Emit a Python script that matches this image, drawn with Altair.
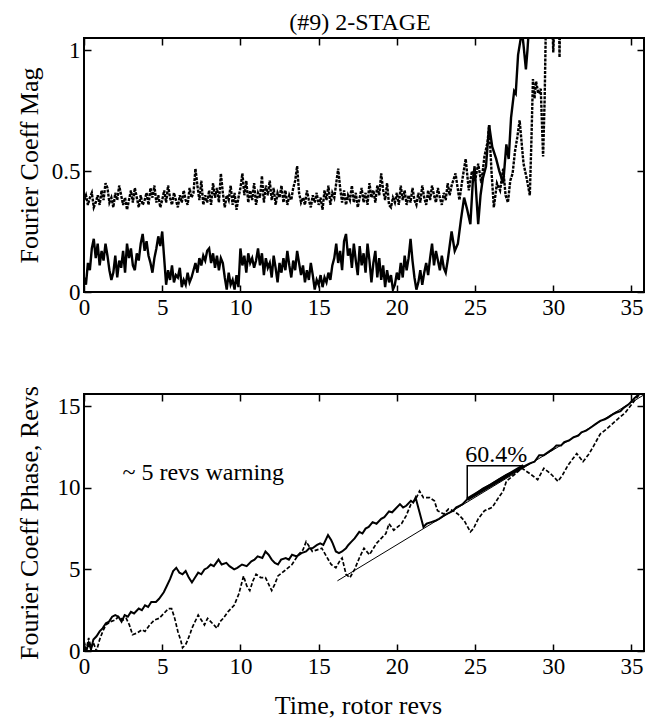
import altair as alt
import pandas as pd

FONT = "Liberation Serif"
BLACK = "#000000"

# ---------------- axes / ticks ----------------
X_MAX = 35.8
X_TICKS = [0, 5, 10, 15, 20, 25, 30, 35]
MAG_MAX = 1.05
MAG_TICKS = [0, 0.5, 1]
PHASE_MAX = 15.75
PHASE_TICKS = [0, 5, 10, 15]

TITLE = "(#9) 2-STAGE"
X_TITLE = "Time, rotor revs"
MAG_TITLE = "Fourier Coeff Mag"
PHASE_TITLE = "Fourier Coeff Phase, Revs"

# ---------------- top panel: magnitude ----------------
T_STEP = 0.125
# dashed trace, flat part sampled every T_STEP from t=0 (8 samples per rev)
mag_dashed_flat = [
    0.38, 0.40, 0.36, 0.39, 0.41, 0.35, 0.37, 0.40,
    0.36, 0.42, 0.38, 0.45, 0.43, 0.37, 0.39, 0.35,
    0.41, 0.38, 0.44, 0.40, 0.36, 0.39, 0.34, 0.38,
    0.42, 0.37, 0.43, 0.39, 0.35, 0.40, 0.36, 0.38,
    0.41, 0.36, 0.43, 0.39, 0.44, 0.37, 0.40, 0.35,
    0.38, 0.42, 0.37, 0.44, 0.39, 0.36, 0.41, 0.38,
    0.35, 0.40, 0.37, 0.42, 0.38, 0.36, 0.43, 0.39,
    0.41, 0.51, 0.44, 0.38, 0.46, 0.36, 0.40, 0.37,
    0.42, 0.36, 0.45, 0.39, 0.43, 0.37, 0.49, 0.41,
    0.35, 0.40, 0.38, 0.44, 0.36, 0.41, 0.34, 0.39,
    0.43, 0.49, 0.40, 0.46, 0.37, 0.42, 0.38, 0.45,
    0.36, 0.41, 0.39, 0.48, 0.37, 0.44, 0.40, 0.46,
    0.38, 0.43, 0.36, 0.41, 0.39, 0.44, 0.37, 0.42,
    0.36, 0.40, 0.38, 0.43, 0.46, 0.52, 0.41, 0.37,
    0.39, 0.36, 0.42, 0.38, 0.35, 0.40, 0.37, 0.41,
    0.36, 0.39, 0.34, 0.42, 0.38, 0.44, 0.36, 0.41,
    0.39, 0.45, 0.51, 0.43, 0.37, 0.42, 0.36, 0.40,
    0.38, 0.44, 0.37, 0.41, 0.35, 0.39, 0.43, 0.37,
    0.41, 0.36, 0.45, 0.39, 0.42, 0.37, 0.44, 0.40,
    0.49, 0.42, 0.38, 0.45, 0.36, 0.35, 0.39, 0.37,
    0.41, 0.36, 0.44, 0.38, 0.42, 0.36, 0.40, 0.37,
    0.43, 0.38, 0.36, 0.41, 0.37, 0.44, 0.39, 0.36,
    0.42, 0.38, 0.44, 0.40, 0.37, 0.43, 0.39, 0.36,
    0.41, 0.38, 0.45, 0.40, 0.44]
mag_dashed_rise_t = [23.75, 24.0, 24.2, 24.4, 24.6, 24.8, 25.0, 25.2, 25.4, 25.6, 25.8, 25.9,
                     26.05, 26.2, 26.4, 26.6, 26.8, 26.95, 27.1, 27.25, 27.4, 27.55, 27.7,
                     27.85, 28.0, 28.1, 28.3, 28.5, 28.6, 28.7, 28.8, 28.9, 29.05, 29.2,
                     29.35, 29.45, 29.55, 29.9, 30.0, 30.1, 30.35, 30.4, 30.45]
mag_dashed_rise_v = [0.49, 0.38, 0.47, 0.55, 0.42, 0.50, 0.46, 0.53, 0.45, 0.56, 0.62, 0.69,
                     0.50, 0.35, 0.45, 0.42, 0.51, 0.40, 0.37, 0.46, 0.49, 0.58, 0.64,
                     0.71, 0.60, 0.53, 0.47, 0.40, 0.62, 0.88, 0.80, 0.87, 0.82, 0.84,
                     0.56, 0.80, 1.20, 1.20, 0.99, 1.20, 1.20, 0.97, 1.20]

# solid trace, flat part sampled every T_STEP from t=0 (8 samples per rev)
mag_solid_flat = [
    0.06, 0.03, 0.12, 0.09, 0.18, 0.22, 0.14, 0.20,
    0.11, 0.17, 0.13, 0.20, 0.15, 0.09, 0.05, 0.08,
    0.15, 0.06, 0.13, 0.10, 0.17, 0.08, 0.20, 0.14,
    0.18, 0.11, 0.09, 0.16, 0.13, 0.20, 0.24, 0.17,
    0.21, 0.15, 0.12, 0.08, 0.14, 0.18, 0.23, 0.19,
    0.25, 0.14, 0.03, 0.09, 0.05, 0.11, 0.04, 0.07,
    0.06, 0.10, 0.02, 0.05, 0.03, 0.08, 0.04, 0.06,
    0.09, 0.12, 0.08, 0.14, 0.11, 0.15, 0.13, 0.17,
    0.18, 0.12, 0.16, 0.10, 0.15, 0.09, 0.14, 0.12,
    0.06, 0.01, 0.08, 0.03, 0.05, 0.01, 0.07, 0.02,
    0.18, 0.11, 0.15, 0.08, 0.16, 0.12, 0.14, 0.10,
    0.13, 0.18, 0.11, 0.16, 0.07, 0.14, 0.10, 0.12,
    0.06, 0.15, 0.10, 0.04, 0.12, 0.08, 0.14, 0.09,
    0.17, 0.11, 0.06, 0.13, 0.09, 0.17, 0.12, 0.07,
    0.11, 0.04, 0.09, 0.05, 0.12, 0.07, 0.01, 0.05,
    0.03, 0.07, 0.02, 0.06, 0.04, 0.08, 0.05, 0.11,
    0.14, 0.20, 0.12, 0.17, 0.09, 0.21, 0.24, 0.15,
    0.18, 0.10, 0.20, 0.13, 0.07, 0.19, 0.11, 0.16,
    0.08, 0.20, 0.13, 0.04, 0.12, 0.17, 0.06, 0.14,
    0.05, 0.11, 0.02, 0.09, 0.04, 0.07, 0.01, 0.03,
    0.08, 0.05, 0.12, 0.06, 0.15, 0.09, 0.14, 0.22,
    0.13, 0.06, 0.01, 0.04, 0.09, 0.03, 0.08, 0.12,
    0.07, 0.14, 0.20, 0.11, 0.17, 0.13, 0.09, 0.15,
    0.10, 0.08, 0.13]
mag_solid_rise_t = [23.5, 23.7, 23.9, 24.1, 24.3, 24.5, 24.7, 24.85, 24.97, 25.1, 25.2, 25.35,
                    25.5, 25.7, 25.9, 26.1, 26.35, 26.55, 26.8, 27.0, 27.15, 27.3, 27.5,
                    27.6, 27.75, 27.9, 28.0, 28.1, 28.25, 28.35, 28.45]
mag_solid_rise_v = [0.25, 0.17, 0.20, 0.30, 0.39, 0.34, 0.28, 0.45, 0.52, 0.38, 0.28, 0.40,
                    0.47, 0.52, 0.69, 0.60, 0.55, 0.50, 0.45, 0.61, 0.55, 0.72, 0.83,
                    0.82, 0.98, 1.04, 1.08, 1.02, 0.92, 1.00, 1.10]

# ---------------- bottom panel: phase ----------------
phase_solid_t = [0, 0.15, 0.3, 0.45, 0.6, 0.8, 1.0, 1.2, 1.4, 1.6, 1.8, 2.0, 2.2, 2.4, 2.6, 2.8,
                 3.0, 3.2, 3.5, 3.7, 3.9, 4.1, 4.3, 4.6, 4.8, 5.1, 5.3, 5.5, 5.7, 5.9, 6.1,
                 6.3, 6.5, 6.7, 6.9, 7.1, 7.3, 7.5, 7.7, 7.9, 8.1, 8.3, 8.6, 8.8, 9.1, 9.3,
                 9.6, 9.8, 10.1, 10.4, 10.7, 10.9, 11.1, 11.4, 11.6, 11.8, 12.0, 12.2, 12.4,
                 12.6, 12.9, 13.1, 13.3, 13.6, 13.9, 14.2, 14.4, 14.6, 14.9, 15.1, 15.3,
                 15.6, 15.8, 15.9, 16.1, 16.3, 16.5, 16.75, 16.9, 17.1, 17.3, 17.6, 17.8,
                 18.0, 18.2, 18.45, 18.7, 19.0, 19.2, 19.5, 19.7, 19.9, 20.2, 20.4, 20.6,
                 20.9, 21.05, 21.2, 21.45, 21.7, 21.9, 22.2, 22.5, 22.7, 23.0, 23.2, 23.4,
                 23.6, 23.8, 24.0, 24.2, 24.5, 25.0, 25.5, 26.0, 26.5, 27.0, 27.5, 28.1,
                 28.5, 28.8, 29.1, 29.4, 29.7, 30.0, 30.2, 30.5, 30.7, 31.0, 31.3, 31.6,
                 31.8, 32.1, 32.4, 32.7, 33.0, 33.3, 33.5, 33.8, 34.0, 34.3, 34.5, 34.8,
                 35.0, 35.2, 35.5]
phase_solid_v = [0.4, 0.0, 0.5, 0.1, 0.7, 0.9, 1.2, 1.4, 1.7, 1.8, 2.1, 2.2, 2.1, 1.8, 2.2, 2.1,
                 2.4, 2.3, 2.6, 2.5, 2.8, 2.7, 3.0, 3.0, 3.2, 3.6, 4.0, 4.4, 4.9, 5.1, 4.8,
                 4.7, 4.9, 4.5, 4.2, 4.5, 4.8, 4.7, 5.0, 5.1, 5.3, 5.2, 5.6, 5.3, 5.4, 5.2,
                 5.0, 5.1, 5.3, 5.2, 5.5, 5.6, 5.8, 5.7, 6.1, 5.9, 5.6, 5.4, 5.3,
                 5.6, 5.7, 5.6, 5.9, 5.8, 6.0, 6.1, 6.3, 6.3, 6.5, 6.6, 6.5,
                 7.1, 6.8, 6.6, 6.1, 6.0, 6.1, 6.3, 6.5, 6.7, 6.9, 7.3, 7.2,
                 7.5, 7.6, 7.9, 7.8, 8.1, 8.2, 8.55, 8.5, 8.7, 9.0, 8.8, 8.9,
                 9.2, 9.1, 9.4, 8.5, 7.6, 7.8, 7.9, 8.0, 8.1, 8.3, 8.4, 8.5,
                 8.6, 8.8, 8.9, 9.0, 9.3, 9.6, 9.95, 10.2, 10.5, 10.8, 11.0, 11.3,
                 11.5, 11.6, 12.0, 12.0, 12.2, 12.4, 12.6, 12.6, 12.8, 12.9, 13.1, 13.2,
                 13.4, 13.5, 13.7, 13.9, 14.1, 14.2, 14.3, 14.5, 14.6, 14.7, 14.9, 15.1,
                 15.3, 15.5, 15.75]

phase_dashed_t = [0, 0.15, 0.3, 0.45, 0.6, 0.8, 1.0, 1.2, 1.4, 1.7, 2.0, 2.2, 2.5, 2.7, 2.9,
                  3.1, 3.4, 3.7, 3.9, 4.2, 4.5, 4.8, 5.1, 5.4, 5.6, 5.8, 6.0, 6.2, 6.3, 6.5,
                  6.6, 6.8, 6.9, 7.1, 7.3, 7.5, 7.7, 7.9, 8.1, 8.3, 8.5, 8.7, 8.9, 9.2, 9.6,
                  9.9, 10.2, 10.4, 10.6, 10.8, 11.0, 11.3, 11.6, 11.8, 12.0, 12.2, 12.4,
                  12.8, 13.3, 13.7, 14.0, 14.2, 14.4, 14.6, 14.9, 15.2, 15.5, 15.8, 16.1,
                  16.4, 16.5, 16.75, 17.0, 17.3, 17.6, 17.9, 18.25, 18.7, 19.0, 19.3, 19.5,
                  19.8, 20.3, 20.6, 20.9, 21.2, 21.45, 21.7, 22.1, 22.4, 22.6, 23.0, 23.3,
                  23.6, 23.9, 24.3, 24.7, 24.9, 25.2, 25.6, 26.1, 26.5, 26.8, 27.0, 27.5,
                  28.0, 28.3, 28.6, 29.0, 29.4, 29.9, 30.3, 30.6, 30.95, 31.5, 31.9, 32.3,
                  32.6, 33.0, 33.4, 34.1, 34.6, 35.0, 35.4, 35.6]
phase_dashed_v = [0.6, 0.1, 0.8, 0.2, 0.5, 0.0, 0.7, 1.2, 1.6, 1.8, 1.9, 2.1, 1.9, 2.0, 1.6,
                  1.0, 1.1, 1.3, 1.2, 1.6, 1.9, 2.0, 2.3, 2.6, 2.6, 2.0, 1.2, 0.6, 0.2, 0.4,
                  0.6, 1.1, 1.4, 1.8, 2.2, 1.9, 1.6, 2.0, 1.8, 1.6, 1.4, 1.8, 2.0, 2.4, 2.8,
                  3.5, 4.6, 4.0, 3.7, 4.3, 4.7, 4.5, 4.5, 4.1, 3.7, 4.1, 4.6,
                  4.9, 5.3, 5.9, 6.2, 6.7, 6.4, 6.1, 6.2, 6.3, 5.8, 5.3, 5.1,
                  5.6, 5.7, 4.7, 4.5, 5.0, 5.7, 6.3, 5.9, 6.6, 6.9, 7.2, 7.8,
                  7.4, 7.8, 8.3, 9.0, 9.3, 9.8, 9.4, 9.4, 9.2, 8.6, 8.4, 8.7,
                  8.6, 8.4, 8.0, 7.3, 7.5, 8.1, 8.6, 8.8, 9.4, 9.8, 10.4, 10.8,
                  11.2, 11.0, 10.8, 10.5, 11.2, 10.8, 10.4, 10.8, 11.4, 12.1, 11.6, 12.1,
                  12.6, 13.3, 13.6, 14.2, 14.6, 15.1, 15.6, 15.75]

# straight fitted line and the slope triangle
fit_t = [16.2, 35.8]
fit_v = [4.3, 15.7]
tri_t = [24.5, 24.5, 28.1]
tri_v = [9.3, 11.35, 11.35]
hyp_t = [24.5, 28.1]
hyp_v = [9.3, 11.35]

SLOPE_LABEL = "60.4%"
SLOPE_LABEL_T = 26.36
SLOPE_LABEL_V = 11.6
WARN_LABEL = "~ 5 revs warning"
WARN_LABEL_T = 2.46
WARN_LABEL_V = 10.5

# ---------------- build tables ----------------
def flat_plus_rise(flat, rise_t, rise_v):
    ts = [i * T_STEP for i in range(len(flat))] + list(rise_t)
    vs = list(flat) + list(rise_v)
    return pd.DataFrame({"t": ts, "v": vs, "o": list(range(len(ts)))})

mag_dashed = flat_plus_rise(mag_dashed_flat, mag_dashed_rise_t, mag_dashed_rise_v)
mag_solid = flat_plus_rise(mag_solid_flat, mag_solid_rise_t, mag_solid_rise_v)

def df(ts, vs):
    return pd.DataFrame({"t": ts, "v": vs, "o": list(range(len(ts)))})

ph_solid = df(phase_solid_t, phase_solid_v)
ph_dashed = df(phase_dashed_t, phase_dashed_v)
fit_df = df(fit_t, fit_v)
tri_df = df(tri_t, tri_v)
hyp_df = df(hyp_t, hyp_v)
txt_df = pd.DataFrame({"t": [SLOPE_LABEL_T], "v": [SLOPE_LABEL_V], "s": [SLOPE_LABEL]})
warn_df = pd.DataFrame({"t": [WARN_LABEL_T], "v": [WARN_LABEL_V], "s": [WARN_LABEL]})

W = 560
TICK = 7
LBL = 23

def axis_main(orient, values, fmt, title=None, **kw):
    args = dict(orient=orient, values=values, format=fmt, offset=-TICK, tickSize=TICK,
                domain=False, grid=False, labelPadding=4, labelFont=FONT,
                labelFontSize=LBL, labelColor=BLACK, tickColor=BLACK, tickWidth=1.5,
                titleFont=FONT, titleFontSize=26, titleFontWeight="normal",
                titleColor=BLACK, labelFlush=False)
    args["title"] = title
    args.update(kw)
    return alt.Axis(**args)

def axis_mirror(orient, values):
    return alt.Axis(orient=orient, values=values, offset=-TICK, tickSize=TICK, domain=False,
                    grid=False, labels=False, title=None, tickColor=BLACK, tickWidth=1.5)

xsc = alt.Scale(domain=[0, X_MAX], nice=False, zero=False)

# ---- top ----
ysc_top = alt.Scale(domain=[0, MAG_MAX], nice=False, zero=False)
top_solid = alt.Chart(mag_solid).mark_line(color=BLACK, strokeWidth=2.4, clip=True).encode(
    x=alt.X("t:Q", scale=xsc, axis=axis_main("bottom", X_TICKS, "d")),
    y=alt.Y("v:Q", scale=ysc_top,
            axis=axis_main("left", MAG_TICKS, "~g", MAG_TITLE, titleX=-49,
                           titleBaseline="bottom")),
    order="o:Q")
top_dashed = alt.Chart(mag_dashed).mark_line(color=BLACK, strokeWidth=2.4, clip=True,
                                             strokeDash=[3, 1.2]).encode(
    x=alt.X("t:Q", scale=xsc, axis=axis_mirror("top", X_TICKS)),
    y=alt.Y("v:Q", scale=ysc_top, axis=axis_mirror("right", MAG_TICKS)),
    order="o:Q")
top = alt.layer(top_solid, top_dashed).resolve_axis(x="independent", y="independent").properties(
    width=W, height=254,
    title=alt.Title(TITLE, font=FONT, fontSize=24, fontWeight="normal", color=BLACK,
                    anchor="middle", frame="group", offset=2, dx=-4))

# ---- bottom ----
ysc_bot = alt.Scale(domain=[0, PHASE_MAX], nice=False, zero=False)
bot_solid = alt.Chart(ph_solid).mark_line(color=BLACK, strokeWidth=2, clip=True).encode(
    x=alt.X("t:Q", scale=xsc, axis=axis_main("bottom", X_TICKS, "d", X_TITLE,
                                            titlePadding=14, titleX=274)),
    y=alt.Y("v:Q", scale=ysc_bot,
            axis=axis_main("left", PHASE_TICKS, "d", PHASE_TITLE, titleX=-49,
                           titleBaseline="bottom")),
    order="o:Q")
bot_dashed = alt.Chart(ph_dashed).mark_line(color=BLACK, strokeWidth=1.7, clip=True,
                                            strokeDash=[4, 2]).encode(
    x=alt.X("t:Q", scale=xsc, axis=axis_mirror("top", X_TICKS)),
    y=alt.Y("v:Q", scale=ysc_bot, axis=axis_mirror("right", PHASE_TICKS)),
    order="o:Q")
bot_fit = alt.Chart(fit_df).mark_line(color=BLACK, strokeWidth=1, clip=True).encode(
    x=alt.X("t:Q", scale=xsc, axis=None), y=alt.Y("v:Q", scale=ysc_bot, axis=None), order="o:Q")
bot_tri = alt.Chart(tri_df).mark_line(color=BLACK, strokeWidth=1.5).encode(
    x=alt.X("t:Q", scale=xsc, axis=None), y=alt.Y("v:Q", scale=ysc_bot, axis=None), order="o:Q")
bot_hyp = alt.Chart(hyp_df).mark_line(color=BLACK, strokeWidth=3.5).encode(
    x=alt.X("t:Q", scale=xsc, axis=None), y=alt.Y("v:Q", scale=ysc_bot, axis=None), order="o:Q")
bot_txt = alt.Chart(txt_df).mark_text(font=FONT, fontSize=24, color=BLACK, align="center",
                                      baseline="alphabetic").encode(
    x=alt.X("t:Q", scale=xsc, axis=None), y=alt.Y("v:Q", scale=ysc_bot, axis=None), text="s:N")
bot_warn = alt.Chart(warn_df).mark_text(font=FONT, fontSize=24, color=BLACK, align="left",
                                        baseline="alphabetic").encode(
    x=alt.X("t:Q", scale=xsc, axis=None), y=alt.Y("v:Q", scale=ysc_bot, axis=None), text="s:N")

bottom = alt.layer(bot_solid, bot_dashed, bot_fit, bot_tri, bot_hyp, bot_txt, bot_warn).resolve_axis(
    x="independent", y="independent").properties(width=W, height=257)

chart = alt.vconcat(top, bottom, spacing=64).properties(
    padding={"left": 14, "top": 10, "right": 1, "bottom": 2},
    background="white").configure_view(stroke=BLACK, strokeWidth=2).configure_concat(spacing=64)

chart.save("out.html", embed_options={"renderer": "svg", "actions": False})
